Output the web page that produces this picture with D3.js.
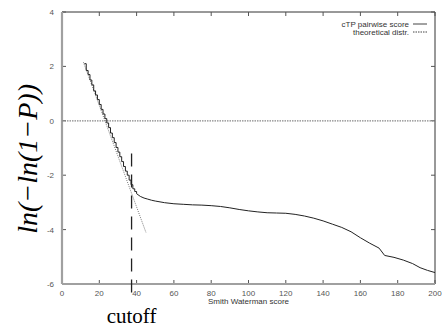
<!DOCTYPE html>
<html>
<head>
<meta charset="utf-8">
<script src="https://cdn.jsdelivr.net/npm/d3@7"></script>
<style>
  body { margin: 0; background: #fff; }
  svg { display: block; }
</style>
</head>
<body>
<svg width="442" height="329"></svg>
<script>
// observed pairwise score curve (stepped at low scores)
const scores = [12, 13, 14, 15, 16, 17, 18, 19, 20, 21, 22, 23, 24, 25, 26, 27, 28, 29, 30,
  31, 32, 33, 34, 35, 36, 37, 38, 39, 40, 42, 44, 46, 48, 50, 55, 60, 65, 70, 75, 80, 85,
  90, 95, 100, 105, 110, 115, 120, 125, 130, 135, 140, 145, 150, 155, 160, 165, 170, 173,
  178, 183, 188, 192, 196, 200];
const observed = [2.10, 1.85, 1.70, 1.50, 1.32, 1.10, 0.95, 0.78, 0.60, 0.42, 0.25, 0.08,
  -0.08, -0.25, -0.45, -0.62, -0.80, -0.98, -1.15, -1.32, -1.50, -1.68, -1.85, -2.00, -2.18,
  -2.35, -2.50, -2.60, -2.68, -2.78, -2.84, -2.88, -2.92, -2.95, -3.01, -3.05, -3.07, -3.09,
  -3.10, -3.12, -3.15, -3.20, -3.26, -3.31, -3.35, -3.38, -3.39, -3.40, -3.44, -3.50, -3.58,
  -3.68, -3.80, -3.92, -4.08, -4.30, -4.50, -4.68, -4.95, -5.02, -5.12, -5.25, -5.40, -5.50,
  -5.58];
// theoretical distribution (straight line)
const theoX = [11.5, 45];
const theoY = [2.15, -4.1];
const cutoff = 37.3;
const xTicks = [0, 20, 40, 60, 80, 100, 120, 140, 160, 180, 200];
const yTicks = [4, 2, 0, -2, -4, -6];
const legendLabels = ['cTP pairwise score', 'theoretical distr.'];

const margin = { top: 12, right: 7, bottom: 45, left: 62 },
  width = 442 - margin.left - margin.right,
  height = 329 - margin.top - margin.bottom;

const svg = d3.select('svg');
const g = svg.append('g')
  .attr('transform', 'translate(' + margin.left + ',' + margin.top + ')');

const x = d3.scaleLinear().domain([0, 200]).range([0, width]);
const y = d3.scaleLinear().domain([-6, 4]).range([height, 0]);

const tickFont = 'Liberation Sans, Arial, sans-serif';

// frame: top and right dark thin
g.append('line').attr('x1', 0).attr('x2', width).attr('y1', 0).attr('y2', 0)
  .attr('stroke', '#333').attr('stroke-width', 1);
g.append('line').attr('x1', width).attr('x2', width).attr('y1', 0).attr('y2', height)
  .attr('stroke', '#333').attr('stroke-width', 1);

// ticks (inward on all sides)
xTicks.forEach(t => {
  g.append('line').attr('x1', x(t)).attr('x2', x(t)).attr('y1', height).attr('y2', height - 4)
    .attr('stroke', '#555');
  g.append('line').attr('x1', x(t)).attr('x2', x(t)).attr('y1', 0).attr('y2', 4)
    .attr('stroke', '#555');
  g.append('text').attr('x', x(t)).attr('y', height + 12)
    .attr('text-anchor', 'middle').attr('font-family', tickFont).attr('font-size', 8)
    .attr('fill', '#555').text(t);
});
yTicks.forEach(t => {
  g.append('line').attr('x1', 0).attr('x2', 4).attr('y1', y(t)).attr('y2', y(t))
    .attr('stroke', '#555');
  g.append('line').attr('x1', width).attr('x2', width - 4).attr('y1', y(t)).attr('y2', y(t))
    .attr('stroke', '#555');
  g.append('text').attr('x', -8).attr('y', y(t) + 3)
    .attr('text-anchor', 'end').attr('font-family', tickFont).attr('font-size', 8)
    .attr('fill', '#555').text(t);
});

// left and bottom axis: thick grey
g.append('line').attr('x1', 0).attr('x2', 0).attr('y1', 0).attr('y2', height)
  .attr('stroke', '#a0a0a0').attr('stroke-width', 2.2);
g.append('line').attr('x1', 0).attr('x2', width).attr('y1', height).attr('y2', height)
  .attr('stroke', '#a0a0a0').attr('stroke-width', 2.2);

// zero line
g.append('line').attr('x1', 0).attr('x2', width).attr('y1', y(0)).attr('y2', y(0))
  .attr('stroke', '#888').attr('stroke-width', 1.2).attr('stroke-dasharray', '1.5,1');

// theoretical line
g.append('path')
  .datum(theoX.map((d, i) => [d, theoY[i]]))
  .attr('fill', 'none')
  .attr('stroke', '#666')
  .attr('stroke-width', 0.9)
  .attr('stroke-dasharray', '1,1.2')
  .attr('d', d3.line().x(d => x(d[0])).y(d => y(d[1])));

// observed curve: steps up to score 40, smooth after
const pts = scores.map((d, i) => [d, observed[i]]);
g.append('path')
  .datum(pts.filter(d => d[0] <= 40))
  .attr('fill', 'none')
  .attr('stroke', '#222')
  .attr('stroke-width', 1)
  .attr('d', d3.line().curve(d3.curveStepAfter).x(d => x(d[0])).y(d => y(d[1])));
g.append('path')
  .datum(pts.filter(d => d[0] >= 40))
  .attr('fill', 'none')
  .attr('stroke', '#222')
  .attr('stroke-width', 1)
  .attr('d', d3.line().x(d => x(d[0])).y(d => y(d[1])));

// cutoff dashed line
g.append('line')
  .attr('x1', x(cutoff)).attr('x2', x(cutoff))
  .attr('y1', y(-1.2)).attr('y2', height + 16)
  .attr('stroke', '#222').attr('stroke-width', 1.3)
  .attr('stroke-dasharray', '13,8');

svg.append('text')
  .attr('x', margin.left + x(cutoff)).attr('y', 323)
  .attr('text-anchor', 'middle')
  .attr('font-family', 'Liberation Serif, Times New Roman, serif')
  .attr('font-size', 21)
  .text('cutoff');

// x axis title
g.append('text')
  .attr('x', x(100)).attr('y', height + 20)
  .attr('text-anchor', 'middle').attr('font-family', tickFont).attr('font-size', 8)
  .attr('fill', '#333').text('Smith Waterman score');

// y axis title
svg.append('text')
  .attr('transform', 'translate(37,' + (margin.top + y(-1.4)) + ') rotate(-90)')
  .attr('text-anchor', 'middle')
  .attr('font-family', 'Liberation Serif, Times New Roman, serif')
  .attr('font-style', 'italic')
  .attr('font-size', 28)
  .text('ln(\u2212ln(1\u2212P))');

// legend
const legendStyles = [
  { dash: null, stroke: '#444' },
  { dash: '1.5,1', stroke: '#444' }
];
legendLabels.forEach((label, i) => {
  const ly = 12 + 8 * i;
  g.append('text').attr('x', width - 26).attr('y', ly + 3)
    .attr('text-anchor', 'end').attr('font-family', tickFont).attr('font-size', 8)
    .attr('fill', '#333').text(label);
  g.append('line').attr('x1', width - 22).attr('x2', width - 8).attr('y1', ly).attr('y2', ly)
    .attr('stroke', legendStyles[i].stroke).attr('stroke-width', 1)
    .attr('stroke-dasharray', legendStyles[i].dash);
});
</script>
</body>
</html>
